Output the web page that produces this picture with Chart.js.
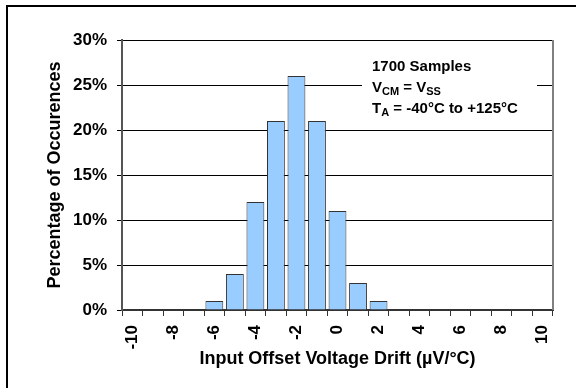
<!DOCTYPE html>
<html>
<head>
<meta charset="utf-8">
<script src="https://cdn.jsdelivr.net/npm/chart.js@4.4.1/dist/chart.umd.min.js"></script>
<style>
  html, body { margin: 0; padding: 0; background: #fff; }
  #wrap { position: relative; width: 576px; height: 388px; }
</style>
</head>
<body>
<div id="wrap"><canvas id="driftChart"></canvas></div>
<script>
// offset voltage drift bins, µV/°C
var driftBins = [-10, -9, -8, -7, -6, -5, -4, -3, -2, -1, 0, 1, 2, 3, 4, 5, 6, 7, 8, 9, 10];
// share of parts in each bin, %
var occurrences = [0, 0, 0, 0, 1, 4, 12, 21, 26, 21, 11, 3, 1, 0, 0, 0, 0, 0, 0, 0, 0];
var yTicks = [0, 5, 10, 15, 20, 25, 30];

var fontName = "'Liberation Sans', Arial, sans-serif";

// note box in the upper right, and the outer frame
var notePlugin = {
    id: 'noteBox',
    afterDatasetsDraw: function (chart) {
        var ctx = chart.ctx;
        ctx.save();
        ctx.fillStyle = '#fff';
        ctx.fillRect(362, 50, 175, 70);

        ctx.fillStyle = '#000';
        ctx.textBaseline = 'alphabetic';
        var big = 'bold 15px ' + fontName;
        var sub = 'bold 11px ' + fontName;
        var x = 372;

        ctx.font = big;
        ctx.fillText('1700 Samples', x, 71);

        // V_CM = V_SS
        var cx = x;
        ctx.font = big; ctx.fillText('V', cx, 92); cx += ctx.measureText('V').width;
        ctx.font = sub; ctx.fillText('CM', cx, 95); cx += ctx.measureText('CM').width;
        ctx.font = big; ctx.fillText(' = V', cx, 92); cx += ctx.measureText(' = V').width;
        ctx.font = sub; ctx.fillText('SS', cx, 95);

        // T_A = -40°C to +125°C
        cx = x;
        ctx.font = big; ctx.fillText('T', cx, 113); cx += ctx.measureText('T').width;
        ctx.font = sub; ctx.fillText('A', cx, 116); cx += ctx.measureText('A').width;
        ctx.font = big; ctx.fillText(' = -40°C to +125°C', cx, 113);

        // right edge of the plot
        var a = chart.chartArea;
        ctx.strokeStyle = '#808080';
        ctx.lineWidth = 2;
        ctx.beginPath();
        ctx.moveTo(a.right, a.top);
        ctx.lineTo(a.right, a.bottom);
        ctx.stroke();

        // frame
        ctx.strokeStyle = '#000';
        ctx.lineWidth = 2;
        ctx.beginPath();
        ctx.moveTo(7, 388);
        ctx.lineTo(7, 6);
        ctx.lineTo(576, 6);
        ctx.stroke();
        ctx.restore();
    }
};

new Chart('driftChart', {
    type: 'bar',
    data: {
        labels: driftBins,
        datasets: [{
            data: occurrences,
            backgroundColor: '#99ccff',
            borderColor: '#333333',
            borderWidth: 1,
            barPercentage: 0.87,
            categoryPercentage: 1.0
        }]
    },
    options: {
        responsive: true,
        maintainAspectRatio: false,
        animation: false,
        layout: { padding: { left: 0, right: 23, top: 40, bottom: 0 } },
        plugins: {
            legend: { display: false },
            tooltip: { enabled: false }
        },
        scales: {
            x: {
                afterFit: function (s) { s.height = 78; },
                grid: {
                    offset: true,
                    drawOnChartArea: false,
                    drawTicks: true,
                    tickLength: 6,
                    color: '#333'
                },
                border: { color: '#333', width: 2 },
                ticks: {
                    autoSkip: false,
                    minRotation: 90,
                    maxRotation: 90,
                    padding: 9,
                    color: '#000',
                    font: { family: fontName, size: 17, weight: 'bold' },
                    callback: function (val, i) {
                        var v = driftBins[i];
                        return v % 2 === 0 ? String(v) : '';
                    }
                },
                title: {
                    display: true,
                    text: 'Input Offset Voltage Drift (µV/°C)',
                    color: '#000',
                    font: { family: fontName, size: 18, weight: 'bold' },
                    padding: { top: 0, bottom: 18 }
                }
            },
            y: {
                min: 0,
                max: 30,
                afterFit: function (s) { s.width = 122; },
                afterBuildTicks: function (s) {
                    s.ticks = yTicks.map(function (v) { return { value: v }; });
                },
                grid: {
                    color: '#000',
                    lineWidth: 1,
                    drawTicks: true,
                    tickLength: 5
                },
                border: { color: '#555', width: 2 },
                ticks: {
                    padding: 10,
                    color: '#000',
                    font: { family: fontName, size: 17, weight: 'bold' },
                    callback: function (v) { return v + '%'; }
                },
                title: {
                    display: true,
                    text: 'Percentage of Occurences',
                    color: '#000',
                    font: { family: fontName, size: 18, weight: 'bold' },
                    padding: { top: 44, bottom: 0 }
                }
            }
        }
    },
    plugins: [notePlugin]
});
</script>
</body>
</html>
